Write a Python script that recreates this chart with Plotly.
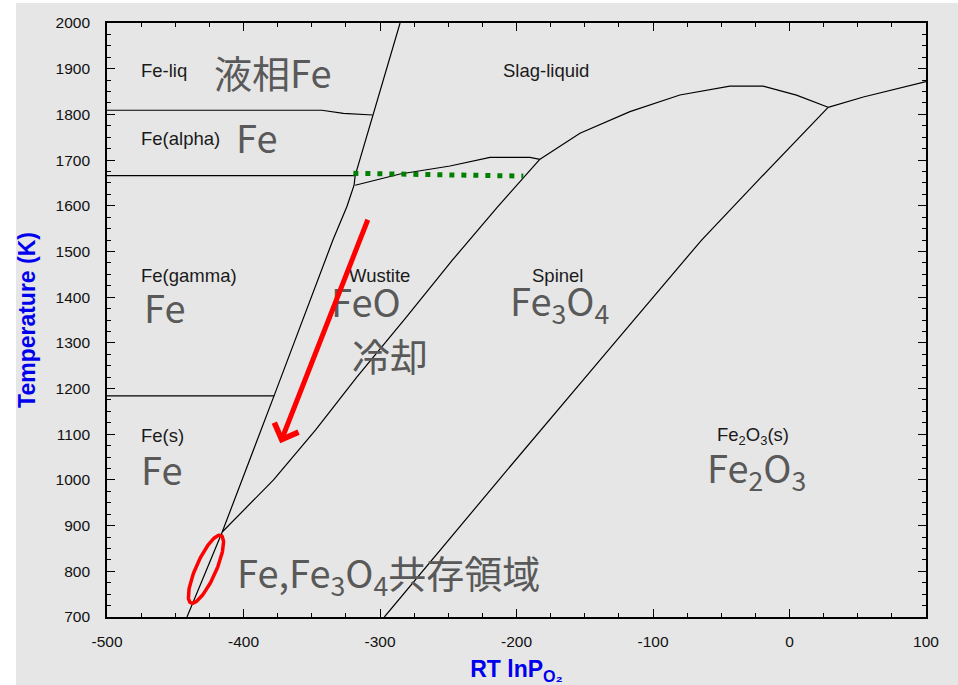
import numpy as np
import plotly.graph_objects as go

# ---------------- data ----------------
# Fe / Fe3O4 and Fe / FeO boundary (steep line)
fe_bound_x = [-441.4, -415.6, -377.5, -334.5, -324.3, -319.0, -318.2, -305.3, -285.3]
fe_bound_T = [700, 886, 1185, 1525, 1598, 1645, 1666, 1799, 2000]

# FeO / Fe3O4 boundary
feo_fe3o4_x = [-415.6, -378.0, -347.0, -317.0, -281.0, -247.0, -214.0, -182.8]
feo_fe3o4_T = [886, 1000, 1110, 1225, 1355, 1481, 1597, 1702]

# Fe3O4 / Fe2O3 boundary
fe3o4_fe2o3_x = [-296.8, -212.1, -135.0, -64.4, -21.6, 3.9, 28.3]
fe3o4_fe2o3_T = [700, 1003, 1276, 1525, 1660, 1740, 1815.5]

# Slag-liquid lower boundary (above spinel)
liq_x = [-182.8, -153.5, -116.9, -80.3, -43.7, -19.3, 5.1, 28.3]
liq_T = [1701.7, 1758.6, 1806, 1842.4, 1862, 1862, 1842, 1815.5]

# Slag-liquid lower boundary (above Fe2O3)
liq2_x = [28.3, 54.1, 100]
liq2_T = [1815.5, 1838, 1871.6]

# Wustite / liquid hump
hump_x = [-318.2, -285.3, -248.7, -226.7, -219.4, -190.1, -182.8]
hump_T = [1645, 1669.6, 1687, 1701.7, 1706, 1706, 1701.7]

# Horizontal Fe transitions
feliq_x = [-500, -342.6, -326.8, -305.3]
feliq_T = [1809, 1809, 1802.4, 1798.7]
alpha_x = [-500, -318.2]
alpha_T = [1666, 1666]
gamma_x = [-500, -377.5]
gamma_T = [1183.8, 1183.8]

# green dotted line
green_x = [-319.5, -195]
green_T = [1671, 1665]

# cooling arrow (tail, head)
arrow_tail = (-308.5, 1572.7)
arrow_head = (-373.1, 1080.3)

# ellipse marking Fe,Fe3O4 coexistence (center in data, size in px)
ell_center = (-427.5, 804.6)
ell_a_px, ell_b_px, ell_angle_deg = 37.0, 10.0, 66.0

x_ticks = [-500, -400, -300, -200, -100, 0, 100]
x_ticktext = ["-500", "-400", "-300", "-200", "-100", "0", "100"]
y_ticks = [700, 800, 900, 1000, 1100, 1200, 1300, 1400, 1500, 1600, 1700, 1800, 1900, 2000]
y_ticktext = [str(v) for v in y_ticks]

small_labels = [
    ("Fe-liq", -476.4, 1896),
    ("Slag-liquid", -211.5, 1896),
    ("Fe(alpha)", -476.4, 1748),
    ("Fe(gamma)", -476.4, 1447),
    ("Wustite", -324.1, 1448),
    ("Spinel", -190.1, 1448),
    ("Fe<sub>2</sub>O<sub>3</sub>(s)", -54.7, 1096),
    ("Fe(s)", -476.4, 1097),
]
big_labels = [
    ("液相Fe", -423.0, 1893),
    ("Fe", -407.0, 1752),
    ("Fe", -474.5, 1380),
    ("FeO", -337.6, 1393),
    ("冷却", -321.8, 1274),
    ("Fe<sub>3</sub>O<sub>4</sub>", -206.0, 1390),
    ("Fe", -476.4, 1025),
    ("Fe<sub>2</sub>O<sub>3</sub>", -62.0, 1024),
    ("Fe,Fe<sub>3</sub>O<sub>4</sub>共存領域", -406.0, 795),
]

# ---------------- figure ----------------
W, H = 958, 685
ML, MR, MT, MB = 107, 32, 23, 68
XR = [-500, 100]
YR = [700, 2000]
px_per_x = (W - ML - MR) / (XR[1] - XR[0])
px_per_T = (H - MT - MB) / (YR[1] - YR[0])

fig = go.Figure()

def add_line(x, y, color="black", width=1.2, dash="solid"):
    fig.add_trace(go.Scatter(x=x, y=y, mode="lines",
                             line=dict(color=color, width=width, dash=dash),
                             hoverinfo="skip", showlegend=False))

for xs, ys in [(fe_bound_x, fe_bound_T), (feo_fe3o4_x, feo_fe3o4_T),
               (fe3o4_fe2o3_x, fe3o4_fe2o3_T), (liq_x, liq_T), (liq2_x, liq2_T),
               (hump_x, hump_T), (feliq_x, feliq_T), (alpha_x, alpha_T),
               (gamma_x, gamma_T)]:
    add_line(xs, ys)

add_line(green_x, green_T, color="#008000", width=5, dash="5px,7px")

# ellipse
t = np.linspace(0, 2 * np.pi, 120)
ang = np.deg2rad(ell_angle_deg)
dx_px = ell_a_px * np.cos(t) * np.cos(ang) - ell_b_px * np.sin(t) * np.sin(ang)
dy_px = ell_a_px * np.cos(t) * np.sin(ang) + ell_b_px * np.sin(t) * np.cos(ang)
fig.add_trace(go.Scatter(x=ell_center[0] + dx_px / px_per_x,
                         y=ell_center[1] + dy_px / px_per_T,
                         mode="lines", line=dict(color="#ff0000", width=3.5),
                         hoverinfo="skip", showlegend=False))

annotations = []
for txt, x, y in small_labels:
    annotations.append(dict(text=txt, x=x, y=y, xref="x", yref="y", showarrow=False,
                            xanchor="left", yanchor="middle",
                            font=dict(family="Arial, Liberation Sans", size=18.5, color="#1a1a1a")))
for txt, x, y in big_labels:
    annotations.append(dict(text=txt, x=x, y=y, xref="x", yref="y", showarrow=False,
                            xanchor="left", yanchor="middle",
                            font=dict(family="Noto Sans CJK JP", size=38, color="#595959")))
annotations.append(dict(x=arrow_head[0], y=arrow_head[1], ax=arrow_tail[0], ay=arrow_tail[1],
                        xref="x", yref="y", axref="x", ayref="y", text="", showarrow=True,
                        arrowhead=4, arrowsize=1, arrowwidth=5, arrowcolor="#ff0000"))

axis_common = dict(showline=True, linecolor="black", linewidth=1.6, mirror="allticks",
                   ticks="inside", ticklen=8, tickwidth=1.4, tickcolor="black",
                   showgrid=False, zeroline=False, automargin=False,
                   tickfont=dict(family="Arial, Liberation Sans", size=15.5, color="#111111"),
                   minor=dict(dtick=25, ticks="inside", ticklen=4, tickwidth=1.2,
                              tickcolor="black", showgrid=False))

fig.update_layout(
    width=W, height=H,
    margin=dict(l=ML, r=MR, t=MT, b=MB, pad=0, autoexpand=False),
    paper_bgcolor="#e6e6e6", plot_bgcolor="#e6e6e6",
    xaxis=dict(range=XR, tickvals=x_ticks, ticktext=x_ticktext, ticklabelstandoff=10,
               title=dict(text="RT lnP<sub>O₂</sub>", standoff=14,
                          font=dict(family="Arial, Liberation Sans", size=23, color="#0000ee",
                                    weight="bold")),
               **axis_common),
    yaxis=dict(range=YR, tickvals=y_ticks, ticktext=y_ticktext, ticklabelstandoff=12,
               title=dict(text="Temperature (K)", standoff=14,
                          font=dict(family="Arial, Liberation Sans", size=23, color="#0000ee",
                                    weight="bold")),
               **axis_common),
    annotations=annotations,
    shapes=[
        dict(type="rect", xref="paper", yref="paper", x0=-0.5, x1=(16 - ML) / (W - ML - MR),
             y0=-0.5, y1=1.5, fillcolor="white", line=dict(width=0), layer="below"),
        dict(type="rect", xref="paper", yref="paper", x0=-0.5, x1=1.5,
             y0=1 + (MT - 3) / (H - MT - MB), y1=1.5, fillcolor="white", line=dict(width=0),
             layer="below"),
    ],
)

fig.write_html("out.html", config={"displayModeBar": False},
               post_script="document.body.style.margin='0';document.body.style.overflow='hidden';")
